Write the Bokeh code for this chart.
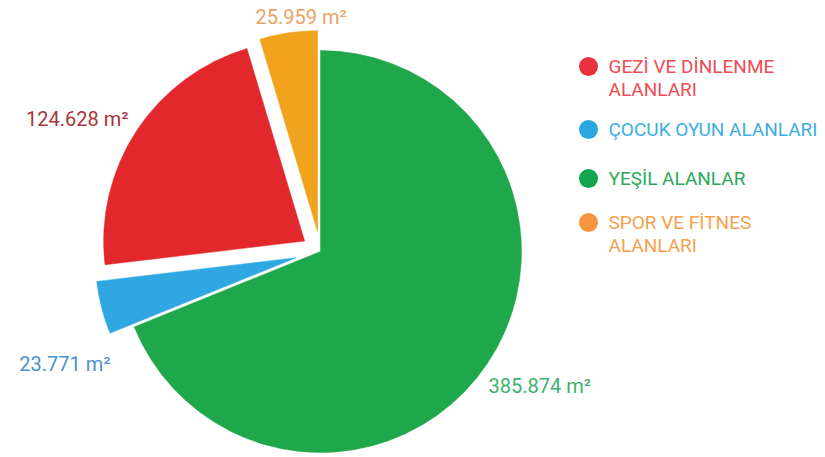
import numpy as np
from bokeh.plotting import figure
from bokeh.models import Range1d, ColumnDataSource
from bokeh.core.properties import value
from bokeh.embed import file_html
from bokeh.resources import INLINE

# ---- data ----
categories = ["GEZİ VE DİNLENME ALANLARI", "ÇOCUK OYUN ALANLARI", "YEŞİL ALANLAR", "SPOR VE FİTNES ALANLARI"]
values = [124628, 23771, 385874, 25959]
value_labels = ["124.628 m²", "23.771 m²", "385.874 m²", "25.959 m²"]
legend_lines = [["GEZİ VE DİNLENME", "ALANLARI"], ["ÇOCUK OYUN ALANLARI"], ["YEŞİL ALANLAR"], ["SPOR VE FİTNES", "ALANLARI"]]

# ---- styles / layout ----
slice_colors = ["#E2282C", "#2FA8E2", "#1FA74B", "#F1A31E"]
label_colors = ["#A8353A", "#4A93CC", "#3CB36C", "#EBA363"]
legend_dot_colors = ["#E8333F", "#2AA6E0", "#12A550", "#F7963E"]
legend_text_colors = ["#EE4B55", "#3DAEE3", "#2BAA58", "#F6A04E"]
explode = [19, 25, 0, 20]
pie_order = [3, 0, 1, 2]          # counter-clockwise from 12 o'clock
label_pos = [(128, 118, "right"), (110, 363, "right"), (488, 385, "left"), (255, 16, "left")]  # image px
PW, PH = 825, 457
cx, cy_img, R = 320, 251, 201
FONT = "Roboto"


def Y(y_img):
    return PH - y_img


p = figure(width=PW, height=PH, x_range=Range1d(0, PW), y_range=Range1d(0, PH),
           output_backend="svg", toolbar_location=None, min_border=0)
p.axis.visible = False
p.grid.visible = False
p.outline_line_color = None
p.background_fill_color = "white"
p.border_fill_color = "white"

vals = np.array(values, dtype=float)
frac = vals / vals.sum()
ang = frac * 2 * np.pi
start = {}
end = {}
a = np.pi / 2
for i in pie_order:
    start[i] = a
    end[i] = a + ang[i]
    a += ang[i]

xs, ys, sa, ea, cols = [], [], [], [], []
for i in range(len(values)):
    mid = (start[i] + end[i]) / 2
    xs.append(cx + explode[i] * np.cos(mid))
    ys.append(Y(cy_img) + explode[i] * np.sin(mid))
    sa.append(start[i])
    ea.append(end[i])
    cols.append(slice_colors[i])

src = ColumnDataSource(dict(x=xs, y=ys, sa=sa, ea=ea, c=cols))
p.wedge(x="x", y="y", radius=R, start_angle="sa", end_angle="ea",
        fill_color="c", line_color="c", line_width=0.5, source=src)

# value labels
for i, t in enumerate(value_labels):
    lx, ly, al = label_pos[i]
    p.text(x=[lx], y=[Y(ly)], text=[t], text_font=value(FONT), text_font_size="20px",
           text_color=label_colors[i], text_align=al, text_baseline="middle")

# legend
legend_y = [66, 129, 178, 222]
line_gap = 23
for i, lines in enumerate(legend_lines):
    p.scatter(x=[588], y=[Y(legend_y[i])], size=19, marker="circle",
              fill_color=legend_dot_colors[i], line_color=None)
    for k, ln in enumerate(lines):
        p.text(x=[608], y=[Y(legend_y[i] + k * line_gap)], text=[ln], text_font=value(FONT),
               text_font_size="19px", text_color=legend_text_colors[i],
               text_align="left", text_baseline="middle")

open("out.html", "w").write(file_html(p, INLINE))
